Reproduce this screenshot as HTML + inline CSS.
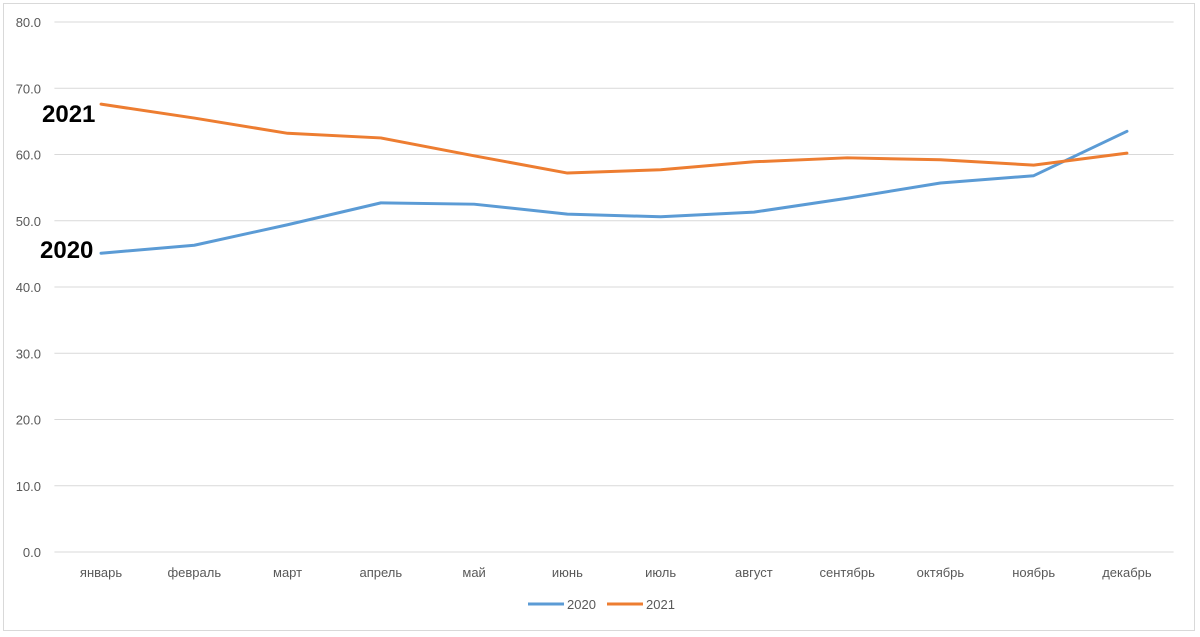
<!DOCTYPE html>
<html><head><meta charset="utf-8"><style>
body{margin:0;background:#fff;}
svg{display:block;font-family:"Liberation Sans",sans-serif;}
</style></head><body>
<svg id="chart" width="1200" height="637" viewBox="0 0 1200 637">
<rect x="3.5" y="3.5" width="1191" height="627" fill="#fff" stroke="#d9d9d9"/>
<g id="grid"></g><g id="yticks"></g><g id="xticks"></g><g id="lines"></g>
<text x="42" y="122" font-size="24" font-family="'Liberation Sans Narrow','Liberation Sans',sans-serif" font-weight="bold" fill="#000">2021</text>
<text x="40" y="258" font-size="24" font-family="'Liberation Sans Narrow','Liberation Sans',sans-serif" font-weight="bold" fill="#000">2020</text>
<g>
<line x1="528" y1="604" x2="564" y2="604" stroke="#5b9bd5" stroke-width="3"/>
<text x="567" y="609" font-size="13" fill="#595959">2020</text>
<line x1="607" y1="604" x2="643" y2="604" stroke="#ed7d31" stroke-width="3"/>
<text x="646" y="609" font-size="13" fill="#595959">2021</text>
</g>
</svg>
<script>
const categories=["январь","февраль","март","апрель","май","июнь","июль","август","сентябрь","октябрь","ноябрь","декабрь"];
const series2020=[45.1,46.3,49.4,52.7,52.5,51.0,50.6,51.3,53.4,55.7,56.8,63.5];
const series2021=[67.6,65.5,63.2,62.5,59.8,57.2,57.7,58.9,59.5,59.2,58.4,60.2];
const yTicks=[0,10,20,30,40,50,60,70,80];
const NS="http://www.w3.org/2000/svg";
const L=54.4,R=1173.6,T=22,B=552,YMAX=80;
const bw=(R-L)/categories.length;
const x=i=>L+bw*(i+0.5);
const y=v=>B-(v/YMAX)*(B-T);
function mk(t,a,p){const e=document.createElementNS(NS,t);for(const k in a)e.setAttribute(k,a[k]);p.appendChild(e);return e;}
const g=document.getElementById('grid'),yt=document.getElementById('yticks'),xt=document.getElementById('xticks'),ln=document.getElementById('lines');
yTicks.forEach(v=>{
 const l=mk('line',{x1:L,x2:R,y1:y(v),y2:y(v),stroke:'#d9d9d9','stroke-width':1},g);
 
 
 const t=mk('text',{x:41,y:y(v)+5,'font-size':13,fill:'#595959','text-anchor':'end'},yt);
 t.textContent=v.toFixed(1);
 
 
});
categories.forEach((c,i)=>{
 const t=mk('text',{x:x(i),y:577,'font-size':13,fill:'#595959','text-anchor':'middle'},xt);
 t.textContent=c;
 
 
});
[[series2020,'#5b9bd5','line-2020'],[series2021,'#ed7d31','line-2021']].forEach(([s,col,n])=>{
 const p=mk('polyline',{points:s.map((v,i)=>x(i)+','+y(v)).join(' '),fill:'none',stroke:col,'stroke-width':3,'stroke-linejoin':'round','stroke-linecap':'round'},ln);
 
 
});
</script>
</body></html>
